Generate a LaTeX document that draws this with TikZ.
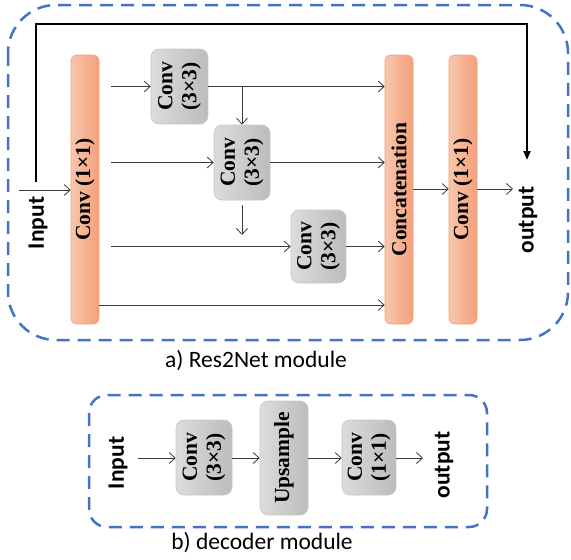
\documentclass[tikz,border=0pt]{standalone}
\usepackage{fontspec}
\setmainfont{Liberation Serif}
\newfontfamily\calfont{Carlito}
\usetikzlibrary{arrows.meta,calc}
\definecolor{dblue}{HTML}{4472C4}
\definecolor{orL}{HTML}{F8C6AB}
\definecolor{orR}{HTML}{F3A07C}
\definecolor{orB}{HTML}{EFA07E}
\definecolor{grL}{HTML}{DCDCDC}
\definecolor{grR}{HTML}{BCBCBC}
\definecolor{grB}{HTML}{C8C8C8}
\definecolor{lnC}{HTML}{3A3A3A}
\newcommand\twol[2]{\begin{tabular}{@{}c@{}}#1\\#2\end{tabular}}
\begin{document}
\begin{tikzpicture}[x=1pt,y=-1pt,
  bar/.style={draw=orB, line width=0.6pt, rounded corners=6pt, left color=orL, right color=orR,
    minimum width=28pt, minimum height=269pt, inner sep=0pt,
    font=\fontsize{21.5}{24}\selectfont\bfseries},
  gbox/.style={draw=grB, line width=0.6pt, rounded corners=8pt, left color=grL, right color=grR,
    inner sep=0pt, font=\fontsize{21.5}{24}\selectfont\bfseries},
  arr/.style={draw=lnC, line width=0.8pt, -{Straight Barb[length=6pt,width=11pt]}},
  lbl/.style={font=\calfont\fontsize{23.5}{26}\selectfont\bfseries, rotate=90, inner sep=0pt},
  capt/.style={font=\calfont\fontsize{23.5}{28}\selectfont, inner sep=0pt},
  bluedash/.style={draw=dblue, line width=2.5pt, dash pattern=on 13pt off 8pt}
]
\useasboundingbox (0,0) rectangle (571,560);

% ---------- a) Res2Net module ----------
\draw[bluedash, rounded corners=48pt] (8,5) rectangle (568,340);

\node[bar] (c1) at (85,189.5) {\rotatebox{90}{Conv (1×1)}};
\node[bar] (cat) at (399,189.5) {\rotatebox{90}{Concatenation}};
\node[bar] (c2) at (463,189.5) {\rotatebox{90}{Conv (1×1)}};

\node[gbox, minimum width=57pt, minimum height=75pt] (g1) at (179.5,86.5) {\rotatebox{90}{\twol{Conv}{(3×3)}}};
\node[gbox, minimum width=56pt, minimum height=75pt] (g2) at (242,162.5) {\rotatebox{90}{\twol{Conv}{(3×3)}}};
\node[gbox, minimum width=55pt, minimum height=73pt] (g3) at (318.5,246.5) {\rotatebox{90}{\twol{Conv}{(3×3)}}};

\node[lbl] (inA) at (38,223) {Input};
\node[lbl] (outA) at (528,220) {output};

\coordinate (inS) at (19,190);
\coordinate (skS) at (36,182);
\coordinate (skT) at (527,160);
\coordinate (g2d) at (242,235);
\coordinate (outE) at (513,189);

\draw[arr] (inS) -- (inS -| c1.west);
\draw[black, line width=2pt, -{Triangle[length=9pt,width=7pt]}] (skS) -- (36,24) -- (527,24) -- (skT);

\draw[arr] ($(c1.east |- g1.west)+(12,0)$) -- (g1.west);
\draw[arr] (g1.east) -- (cat.west |- g1.east);
\draw[arr] (g2.north |- g1.east) -- (g2.north);

\draw[arr] ($(c1.east |- g2.west)+(12,0)$) -- (g2.west);
\draw[arr] (g2.east) -- (cat.west |- g2.east);
\draw[arr] ($(g2.south)+(0,5)$) -- (g2d);

\draw[arr] ($(c1.east |- g3.west)+(12,0)$) -- (g3.west);
\draw[arr] (g3.east) -- (cat.west |- g3.east);

\draw[arr] (c1.east |- 0,305) -- (cat.west |- 0,305);

\draw[arr] (cat.east |- outE) -- (c2.west |- outE);
\draw[arr] (c2.east |- outE) -- (outE);

\node[capt] (capA) at (256,361) {a) Res2Net module};

% ---------- b) decoder module ----------
\draw[bluedash, rounded corners=18pt] (89,395) rectangle (487,527);

\node[gbox, minimum width=56pt, minimum height=75pt] (dc1) at (204,457.5) {\rotatebox{90}{\twol{Conv}{(3×3)}}};
\node[gbox, minimum width=48pt, minimum height=114pt] (up) at (284,458) {\rotatebox{90}{Upsample}};
\node[gbox, minimum width=54pt, minimum height=75pt] (dc2) at (369,457.5) {\rotatebox{90}{\twol{Conv}{(1×1)}}};

\node[lbl] (inB) at (118,463) {Input};
\node[lbl] (outB) at (444,465) {output};

\coordinate (dinS) at (138,458);
\coordinate (doutE) at (423,458);
\draw[arr] (dinS) -- (dinS -| dc1.west);
\draw[arr] (dc1.east |- dinS) -- (up.west |- dinS);
\draw[arr] (up.east |- dinS) -- (dc2.west |- dinS);
\draw[arr] (dc2.east |- doutE) -- (doutE);

\node[capt] (capB) at (262,543) {b) decoder module};
\end{tikzpicture}
\end{document}
